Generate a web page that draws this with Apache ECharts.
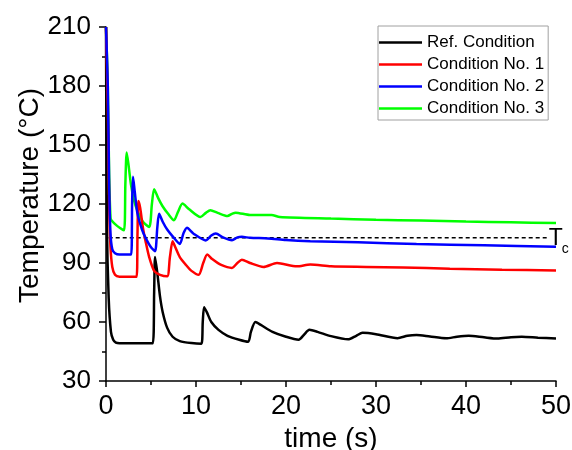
<!DOCTYPE html>
<html>
<head>
<meta charset="utf-8">
<script src="https://cdn.jsdelivr.net/npm/echarts@6/dist/echarts.min.js"></script>
<style>html,body{margin:0;padding:0;background:#fff}#c{width:572px;height:450px}</style>
</head>
<body>
<div id="c"></div>
<script>
var seriesNames = ['Ref. Condition', 'Condition No. 1', 'Condition No. 2', 'Condition No. 3'];
var xTicks = [0, 10, 20, 30, 40, 50];
var yTicks = [30, 60, 90, 120, 150, 180, 210];
var tcValue = 102.8;
var tcRange = [0.3, 49.3];

var refData = [[0,210],[0.1,110],[0.3,72],[0.55,55],[0.8,51],[1.1,49.5],[1.5,49.2],[5.2,49.2],[5.35,75],[5.45,93],[5.7,85],[6.0,73],[6.3,65],[6.8,57],[7.4,52.5],[8.2,50.3],[9.5,49.3],[10.6,49],[10.75,60],[10.9,67.5],[11.2,65],[11.7,60],[12.5,56],[13.5,53],[14.8,51],[15.8,50],[16.1,55],[16.6,60],[17.2,58.5],[18.5,55],[20,52.5],[21.4,51],[22,53.5],[22.6,56],[23.5,55],[25,52.8],[26.9,51.2],[27.8,53],[28.5,54.5],[30,53.8],[32.4,51.8],[33.5,53],[34.5,53.4],[36,52.6],[37.8,51.7],[39,52.5],[40.3,53],[42,52.2],[43.5,51.6],[45,52.3],[46.2,52.5],[48,52],[50,51.6]];
var cond1Data = [[0,210],[0.2,170],[0.35,120],[0.5,98],[0.7,88],[1.0,84],[1.5,83],[3.4,83],[3.5,105],[3.6,121.5],[3.8,118],[4.1,108],[4.4,101],[4.8,93],[5.35,86],[6.0,84],[6.8,83.2],[7.1,93],[7.4,101],[7.7,98],[8.2,93],[8.85,89.2],[9.5,86],[10.3,84],[10.8,90],[11.25,94.3],[11.8,92],[12.8,89],[14,87.5],[14.6,90],[15.1,91.7],[16,90],[17.5,88],[19,90],[21.2,88.3],[22.7,89.2],[25,88.3],[28.9,88],[33,87.7],[38.2,87.1],[44,86.6],[50,86.2]];
var cond2Data = [[0,210],[0.2,180],[0.35,130],[0.5,105],[0.7,97],[1.0,95],[1.5,94.3],[2.8,94.3],[2.9,120],[3.0,133.8],[3.2,126],[3.5,115],[4.0,107],[4.4,102.8],[5.0,98],[5.45,96],[5.7,108],[5.9,115],[6.3,111],[6.8,107],[7.5,103],[8.2,99.7],[8.6,105],[9.0,107.9],[9.7,105],[11.1,101.5],[11.7,104],[12.2,105],[13,103],[14,101.6],[14.6,103],[15.1,103.3],[16,102.8],[18,102.5],[20,101.7],[22.7,101.1],[28,100.5],[34.5,99.7],[42,99],[50,98.3]];
var cond3Data = [[0,210],[0.2,180],[0.35,135],[0.5,113],[0.6,111.7],[1.2,109],[2.0,106.6],[2.15,130],[2.3,146.2],[2.5,140],[2.77,130],[3.1,122],[3.5,116.4],[4.1,111],[4.8,108.3],[5.1,120],[5.35,127.5],[5.8,123],[6.27,119],[6.9,115],[7.55,111.7],[8.0,116],[8.5,120.2],[9.2,117.5],[10.5,113.4],[11.1,115.5],[11.6,116.8],[12.4,115.5],[13.5,113.9],[14.0,115],[14.4,115.6],[16,114.4],[18.4,114.4],[19.3,113.4],[25,112.6],[30,112],[35,111.6],[40,111.1],[45,110.7],[50,110.3]];

var colors = ['#000000', '#ff0000', '#0000ff', '#00ff00'];
var zs = [3, 4, 5, 2];
var allData = [refData, cond1Data, cond2Data, cond3Data];
var FONT = 'Liberation Sans, Arial, sans-serif';

var chart = echarts.init(document.getElementById('c'), null, {renderer: 'canvas'});

var series = seriesNames.map(function (n, i) {
  return {
    name: n, type: 'line', data: allData[i], symbol: 'none', smooth: 0.25, z: zs[i],
    lineStyle: {color: colors[i], width: 2.5}, itemStyle: {color: colors[i]}, animation: false
  };
});
series.push({
  name: 'Tc', type: 'line', symbol: 'none', z: 1, animation: false,
  data: [[tcRange[0], tcValue], [tcRange[1], tcValue]],
  lineStyle: {color: '#000', width: 1.5, type: [4, 3]}
});

chart.setOption({
  animation: false,
  grid: {left: 106, right: 16, top: 27, bottom: 69, containLabel: false, outerBoundsMode: 'none'},
  legend: {
    data: seriesNames, orient: 'vertical', left: 378, top: 26,
    icon: 'rect', itemWidth: 43, itemHeight: 2.5, itemGap: 5,
    borderColor: '#a0a0a0', borderWidth: 1, padding: [8, 4, 3, 1],
    textStyle: {fontFamily: FONT, fontSize: 17, color: '#000'}
  },
  xAxis: {
    type: 'value', min: 0, max: 50, interval: 10,
    name: 'time (s)', nameLocation: 'middle', nameGap: 35,
    nameTextStyle: {fontFamily: FONT, fontSize: 28, color: '#000'},
    axisLine: {show: true, onZero: false, lineStyle: {color: '#000', width: 1.5}},
    axisTick: {show: true, length: 6, lineStyle: {color: '#000', width: 1.5}},
    minorTick: {show: true, splitNumber: 2, length: 4, lineStyle: {color: '#000', width: 1.5}},
    splitLine: {show: false},
    axisLabel: {fontFamily: FONT, fontSize: 27, color: '#000', margin: 12,
      formatter: function (v) { return xTicks.indexOf(v) >= 0 ? String(v) : ''; }}
  },
  yAxis: {
    type: 'value', min: 30, max: 210, interval: 30,
    name: 'Temperature (°C)', nameLocation: 'middle', nameGap: 62, nameRotate: 90,
    nameMoveOverlap: false,
    nameTextStyle: {fontFamily: FONT, fontSize: 28, color: '#000', padding: [0, 0, 0, 17]},
    axisLine: {show: true, onZero: false, lineStyle: {color: '#000', width: 1.5}},
    axisTick: {show: true, length: 7, lineStyle: {color: '#000', width: 1.5}},
    minorTick: {show: true, splitNumber: 2, length: 4, lineStyle: {color: '#000', width: 1.5}},
    splitLine: {show: false},
    axisLabel: {fontFamily: FONT, fontSize: 26, color: '#000', margin: 15,
      formatter: function (v) { return yTicks.indexOf(v) >= 0 ? String(v) : ''; }}
  },
  series: series
});

var p = chart.convertToPixel({gridIndex: 0}, [tcRange[1], tcValue]);
chart.setOption({
  graphic: [
    {type: 'text', left: p[0] - 1, top: p[1] - 11, style: {text: 'T', font: '23px ' + FONT, fill: '#000'}},
    {type: 'text', left: p[0] + 12, top: p[1] + 4, style: {text: 'c', font: '14px ' + FONT, fill: '#000'}}
  ]
});
</script>
</body>
</html>
